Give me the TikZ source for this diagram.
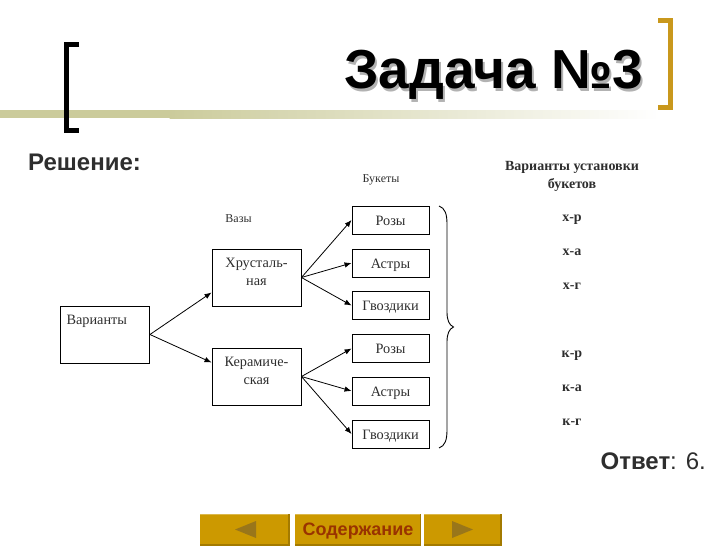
\documentclass[tikz,border=0pt]{standalone}
\usepackage{fontspec}
\usetikzlibrary{arrows.meta}
\setmainfont{Liberation Serif}
\setsansfont{Liberation Sans}
\definecolor{bandcol}{HTML}{CBCB9B}
\definecolor{goldcol}{HTML}{C9981C}
\definecolor{btncol}{HTML}{CC9900}
\definecolor{btntri}{HTML}{99761A}
\definecolor{btntxt}{HTML}{993300}
\definecolor{txtcol}{HTML}{2E2E2E}
\newcommand\toptext[3]{\parbox[c][#1][t]{#2}{\centering\vspace*{6pt}#3}}
\tikzset{
  every node/.style={inner sep=0pt, text=txtcol},
  bigbox/.style={draw=black, line width=0.9pt, minimum width=89pt, minimum height=57pt,
    font=\fontsize{14.3}{18}\selectfont},
  smallbox/.style={draw=black, line width=0.9pt, minimum width=77pt, minimum height=28pt,
    font=\fontsize{14.3}{16}\selectfont, text height=11pt, text depth=1pt},
  head/.style={font=\fontsize{12}{12}\selectfont},
  setup/.style={font=\bfseries\fontsize{14}{18}\selectfont, align=center},
  pair/.style={font=\bfseries\fontsize{14}{14}\selectfont, text height=9pt, text depth=3pt},
  link/.style={line width=0.8pt, -{Latex[length=7pt,width=5.5pt]}},
  tri/.style={fill=btntri},
  titletext/.style={font=\sffamily\bfseries\fontsize{55}{55}\selectfont}
}
\begin{document}
\begin{tikzpicture}[x=1pt,y=-1pt]
  \useasboundingbox (0,0) rectangle (728,546);

  %% band and brackets
  \fill[bandcol] (0,110) rectangle (170,118);
  \fill[left color=bandcol, right color=white] (169.5,110) rectangle (660,118);
  \draw[line width=5pt, black] (79,44) -- (66,44) -- (66,130) -- (79,130);
  \draw[line width=5pt, goldcol] (658,20.5) -- (670,20.5) -- (670,107.5) -- (658,107.5);

  %% title
  \node[titletext, text=black!30] (shadow) at (496,77.5) {Задача №3};
  \node[titletext, text=black] (title) at (494,75) {Задача №3};
  \node[anchor=west, font=\sffamily\bfseries\fontsize{24}{24}\selectfont] (solution) at (28,162) {Решение:};

  %% vases
  \node[bigbox] (variants) at (105,334.5) {\toptext{50pt}{77pt}{\raggedright Варианты}};
  \node[bigbox] (crystal) at (256.5,277.5) {\toptext{50pt}{85pt}{Хрусталь-\\ная}};
  \node[bigbox] (ceramic) at (256.5,376.5) {\toptext{50pt}{85pt}{Керамиче-\\ская}};

  %% bouquets
  \node[smallbox] (rose1) at (390.5,220) {Розы};
  \node[smallbox] (aster1) at (390.5,263) {Астры};
  \node[smallbox] (clove1) at (390.5,305.5) {Гвоздики};
  \node[smallbox] (rose2) at (390.5,348.5) {Розы};
  \node[smallbox] (aster2) at (390.5,391) {Астры};
  \node[smallbox] (clove2) at (390.5,434) {Гвоздики};

  %% headers
  \node[head] (vases) at (238.5,219) {Вазы};
  \node[head] (bouquets) at (381,179.5) {Букеты};
  \node[setup] (setups) at (572,176) {Варианты установки\\букетов};

  %% node to node
  \draw[link] (variants.east) -- ([yshift=-15pt]crystal.west);
  \draw[link] (variants.east) -- ([yshift=14pt]ceramic.west);
  \foreach \to in {rose1,aster1,clove1} \draw[link] (crystal.east) -- (\to.west);
  \foreach \to in {rose2,aster2,clove2} \draw[link] (ceramic.east) -- (\to.west);

  %% brace
  \draw[line width=0.9pt, black] (439,206) .. controls (445,208) and (447,214) .. (447,224)
    -- (447,312) .. controls (447,320) and (449,325) .. (453.5,327)
    .. controls (449,329) and (447,334) .. (447,342)
    -- (447,430) .. controls (447,440) and (445,446) .. (439,448);

  %% setups
  \node[pair] (xr) at (572,218) {х-р};
  \node[pair] (xa) at (572,252) {х-а};
  \node[pair] (xg) at (572,286) {х-г};
  \node[pair] (kr) at (572,354) {к-р};
  \node[pair] (ka) at (572,388) {к-а};
  \node[pair] (kg) at (572,422) {к-г};

  %% answer
  \node[anchor=east, font=\sffamily\fontsize{24}{24}\selectfont] (answer) at (706,461) {\textbf{Ответ}: 6.};

  %% buttons
  \foreach \xa/\xb in {200/289.5,295/421,424/501.5}{
    \fill[btncol!80!black] (\xa,513.5) rectangle (\xb,545.5);
    \fill[btncol!70!white] (\xa,513.5) rectangle (\xb-1.5,515);
    \fill[btncol] (\xa,515) rectangle (\xb-1.5,544);
  }
  \fill[tri] (235,529.5) -- (256,521) -- (256,538) -- cycle;
  \fill[tri] (473,529.5) -- (452,521) -- (452,538) -- cycle;
  \node[text=btntxt, font=\sffamily\bfseries\fontsize{18}{18}\selectfont] (contents) at (358,531) {Содержание};
\end{tikzpicture}
\end{document}
